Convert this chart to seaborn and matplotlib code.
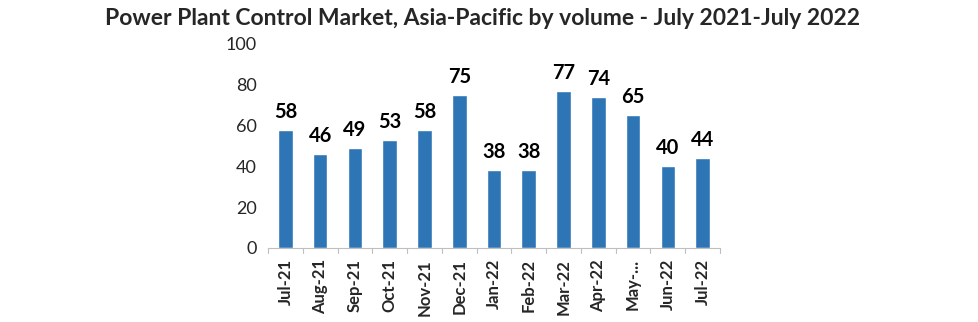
import matplotlib
matplotlib.use("Agg")
import matplotlib.pyplot as plt
import seaborn as sns
import pandas as pd
import numpy as np

months = ["Jul-21", "Aug-21", "Sep-21", "Oct-21", "Nov-21", "Dec-21", "Jan-22",
          "Feb-22", "Mar-22", "Apr-22", "May-...", "Jun-22", "Jul-22"]
volume = [58, 46, 49, 53, 58, 75, 38, 38, 77, 74, 65, 40, 44]
y_ticks = [0, 20, 40, 60, 80, 100]

sns.set_theme(style="white")
plt.rcParams["font.family"] = ["Lato", "DejaVu Sans"]

df = pd.DataFrame({"month": months, "volume": volume})

fig = plt.figure(figsize=(9.79, 3.22), dpi=100)
ax = fig.add_axes([268 / 979, 74 / 322, 452 / 979, 204 / 322])

sns.barplot(data=df, x="month", y="volume", color="#2e75b6", saturation=1,
            width=0.42, ax=ax)

for i, v in enumerate(volume):
    ax.text(i, v + 4, str(v), ha="center", va="bottom", fontsize=14.5,
            fontweight="bold", color="black")

ax.set_ylim(0, 100)
ax.set_yticks(y_ticks)
ax.set_yticklabels([str(t) for t in y_ticks], fontsize=13)
ax.set_xlim(-0.5, len(months) - 0.5)
ax.set_xticks(range(len(months)))
ax.set_xticklabels(months, rotation=90, fontsize=12, fontweight="bold")
ax.tick_params(axis="x", length=0, pad=8)
ax.tick_params(axis="y", length=0, pad=8)

# category boundary tick marks below the baseline
for b in np.arange(-0.5, len(months), 1.0):
    ax.plot([b, b], [0, -2.5], color="#bfbfbf", lw=0.8, clip_on=False)

for s in ["top", "right", "left"]:
    ax.spines[s].set_visible(False)
ax.spines["bottom"].set_color("#bfbfbf")
ax.spines["bottom"].set_linewidth(0.8)
ax.set_xlabel("")
ax.set_ylabel("")

fig.suptitle("Power Plant Control Market, Asia-Pacific by volume - July 2021-July 2022",
             x=483 / 979, y=0.975, fontsize=16.5, fontweight="bold")

fig.savefig("out.png", dpi=100)
